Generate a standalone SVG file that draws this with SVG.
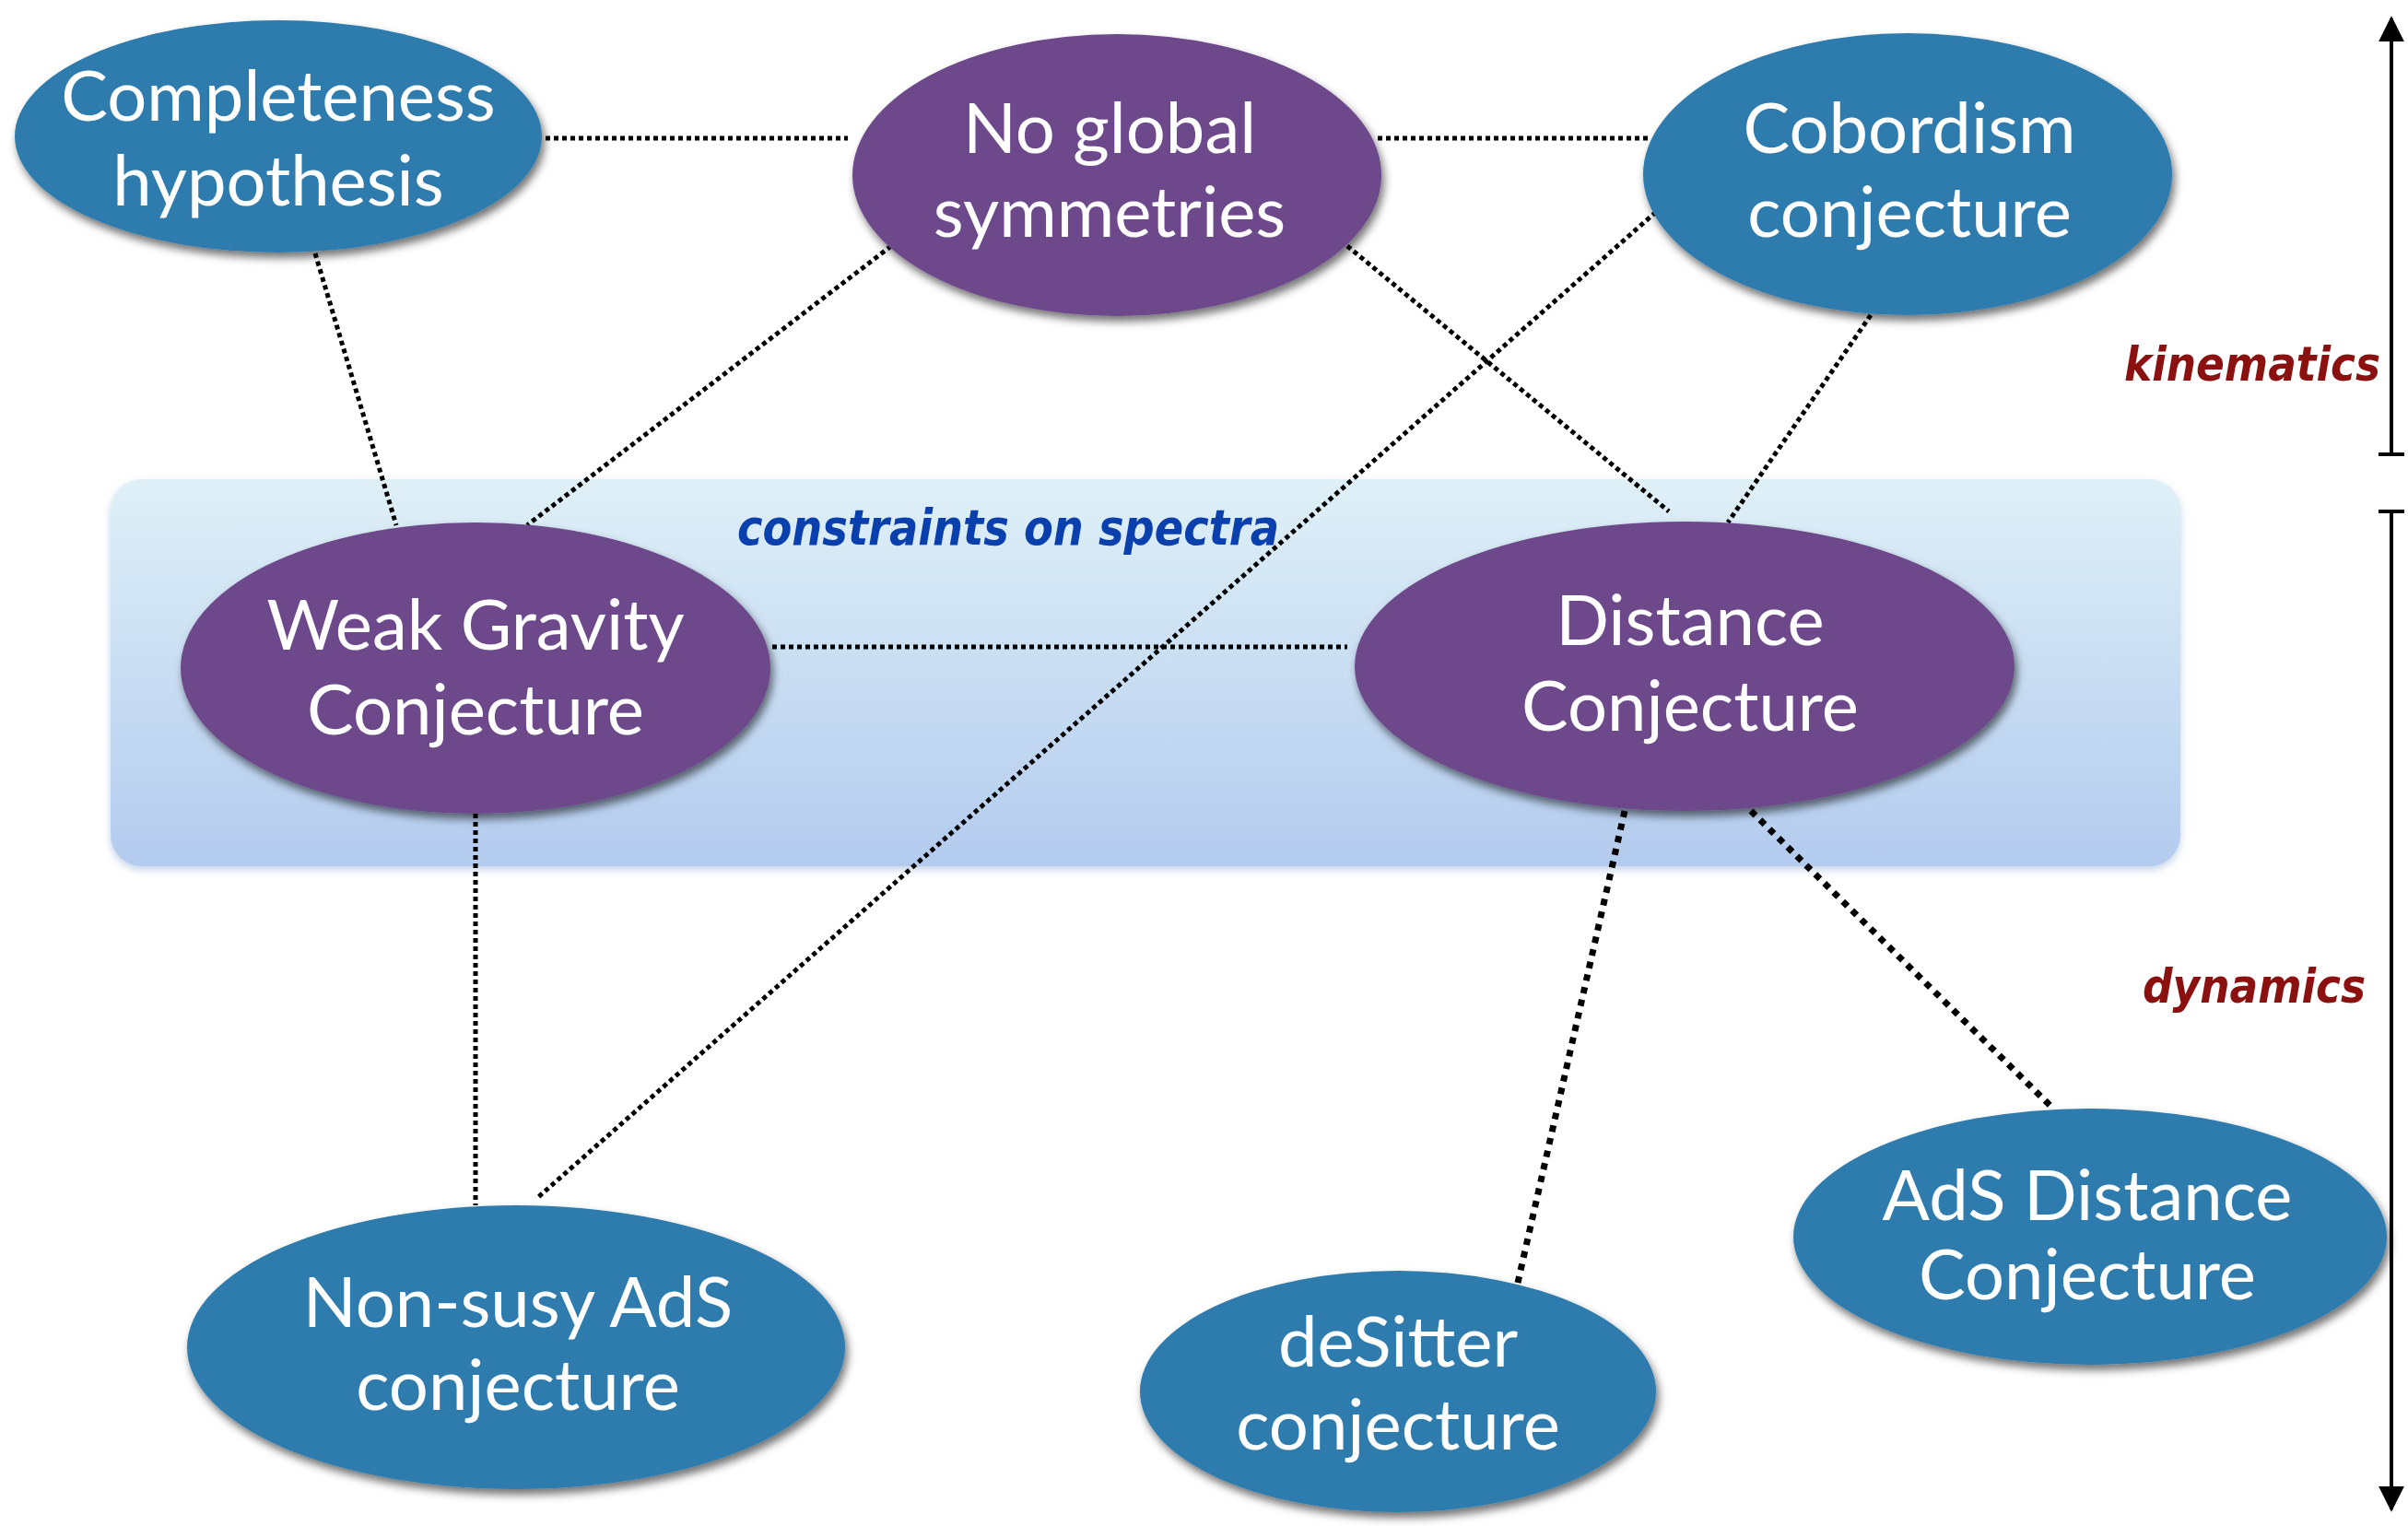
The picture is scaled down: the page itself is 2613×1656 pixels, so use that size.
<svg xmlns="http://www.w3.org/2000/svg" width="2613" height="1656" viewBox="0 0 2613 1656">
<style>
.blue{fill:#2f7cad}
.purple{fill:#6d4a8c}
.nt{font-family:Lato,"Open Sans","Liberation Sans",sans-serif;font-size:76px;fill:#ffffff;text-anchor:middle}
.thin{stroke:#000;stroke-width:5;stroke-dasharray:5 4;fill:none}
.thick{stroke:#000;stroke-width:7;stroke-dasharray:7 7;fill:none}
.hand{font-family:"DejaVu Sans Condensed","DejaVu Sans",sans-serif;font-stretch:condensed;font-weight:bold;font-style:italic}
.axis{stroke:#000;stroke-width:4;fill:none}
</style>
<defs>
<linearGradient id="bg" x1="0" y1="0" x2="0" y2="1">
<stop offset="0" stop-color="#dff0f7"/>
<stop offset="1" stop-color="#b3cbee"/>
</linearGradient>
<filter id="sh" x="-10%" y="-10%" width="125%" height="130%">
<feDropShadow dx="3" dy="6" stdDeviation="5" flood-color="#000" flood-opacity="0.55"/>
</filter>
<filter id="rsh" x="-5%" y="-5%" width="110%" height="115%">
<feDropShadow dx="0" dy="4" stdDeviation="4" flood-color="#8aa8d0" flood-opacity="0.5"/>
</filter>
<marker id="ah" viewBox="0 0 10 10" refX="9" refY="5" markerWidth="7" markerHeight="7" orient="auto" markerUnits="strokeWidth">
<path d="M0,0 L10,5 L0,10 z" fill="#000"/>
</marker>
</defs>
<rect width="2613" height="1656" fill="#ffffff"/>
<g id="spectra-box">
<rect x="120" y="520" width="2246" height="420" rx="34" fill="url(#bg)" filter="url(#rsh)"/>
<text class="hand" x="800" y="591" font-size="54" fill="#0a40ad" textLength="588" lengthAdjust="spacingAndGlyphs">constraints on spectra</text>
</g>
<g id="connectors">
<line class="thin" x1="592" y1="150" x2="920" y2="150"/>
<line class="thin" x1="1495" y1="150" x2="1792" y2="150"/>
<line class="thin" x1="342" y1="275" x2="430" y2="570"/>
<line class="thin" x1="967" y1="267" x2="572" y2="570"/>
<line class="thin" x1="1462" y1="267" x2="1811" y2="555"/>
<line class="thin" x1="1797" y1="230" x2="583" y2="1300"/>
<line class="thin" x1="2030" y1="342" x2="1875" y2="567"/>
<line class="thin" x1="838" y1="702" x2="1462" y2="702"/>
<line class="thin" x1="516" y1="883" x2="516" y2="1308"/>
<line class="thick" x1="1763" y1="880" x2="1647" y2="1392"/>
<line class="thick" x1="1900" y1="880" x2="2225" y2="1200"/>
</g>
<g id="node-completeness">
<ellipse class="blue" cx="302" cy="148" rx="286" ry="126" filter="url(#sh)"/>
<text class="nt" x="302" y="131">Completeness</text>
<text class="nt" x="302" y="223">hypothesis</text>
</g>
<g id="node-noglobal">
<ellipse class="purple" cx="1212" cy="190" rx="287" ry="153" filter="url(#sh)"/>
<text class="nt" x="1204" y="166">No global</text>
<text class="nt" x="1204" y="257">symmetries</text>
</g>
<g id="node-cobordism">
<ellipse class="blue" cx="2070" cy="189" rx="287" ry="153" filter="url(#sh)"/>
<text class="nt" x="2072" y="166">Cobordism</text>
<text class="nt" x="2072" y="257">conjecture</text>
</g>
<g id="node-wgc">
<ellipse class="purple" cx="516" cy="725" rx="320" ry="158" filter="url(#sh)"/>
<text class="nt" x="516" y="705">Weak Gravity</text>
<text class="nt" x="516" y="797">Conjecture</text>
</g>
<g id="node-distance">
<ellipse class="purple" cx="1828" cy="723" rx="358" ry="157" filter="url(#sh)"/>
<text class="nt" x="1834" y="700">Distance</text>
<text class="nt" x="1834" y="793">Conjecture</text>
</g>
<g id="node-nonsusy">
<ellipse class="blue" cx="560" cy="1462" rx="357" ry="154" filter="url(#sh)"/>
<text class="nt" x="562" y="1440">Non-susy AdS</text>
<text class="nt" x="562" y="1530">conjecture</text>
</g>
<g id="node-desitter">
<ellipse class="blue" cx="1517" cy="1510" rx="280" ry="131" filter="url(#sh)"/>
<text class="nt" x="1517" y="1483">deSitter</text>
<text class="nt" x="1517" y="1573">conjecture</text>
</g>
<g id="node-adsdistance">
<ellipse class="blue" cx="2268" cy="1342" rx="322" ry="139" filter="url(#sh)"/>
<text class="nt" x="2265" y="1324" font-size="67">AdS Distance</text>
<text class="nt" x="2265" y="1410" font-size="67">Conjecture</text>
</g>
<g id="axis">
<line class="axis" x1="2595" y1="493" x2="2595" y2="20" marker-end="url(#ah)"/>
<line class="axis" x1="2581" y1="493" x2="2609" y2="493"/>
<line class="axis" x1="2581" y1="555" x2="2609" y2="555"/>
<line class="axis" x1="2595" y1="555" x2="2595" y2="1638" marker-end="url(#ah)"/>
<text class="hand" x="2305" y="413" font-size="52" fill="#8b1010" textLength="278" lengthAdjust="spacingAndGlyphs">kinematics</text>
<text class="hand" x="2325" y="1088" font-size="51" fill="#8b1010" textLength="242" lengthAdjust="spacingAndGlyphs">dynamics</text>
</g>
</svg>
